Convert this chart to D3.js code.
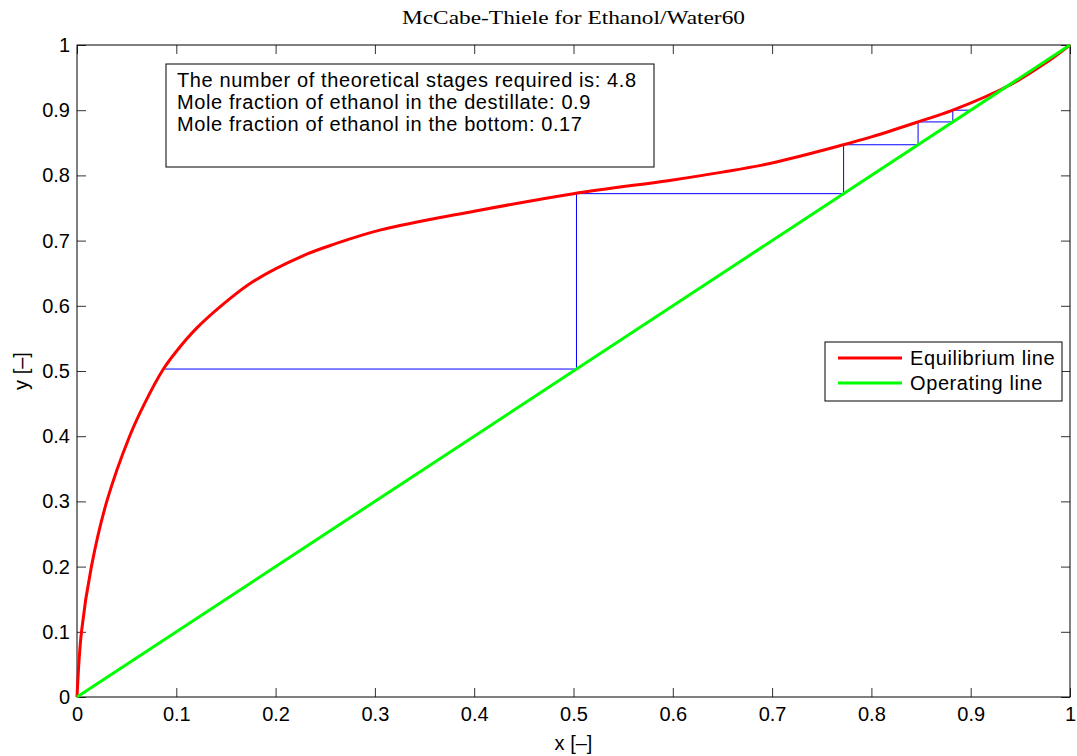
<!DOCTYPE html>
<html>
<head>
<meta charset="utf-8">
<script src="https://cdn.jsdelivr.net/npm/d3@7"></script>
<style>
	body { margin: 0; background: #fff; }
	text { font-family: "Liberation Sans", Arial, sans-serif; fill: #000; }
	.axis path { display: none; }
	.axis line { stroke: #333; }
	.boxtext { letter-spacing: 0.6px; }
	.title { font-family: "Liberation Serif", "DejaVu Serif", serif; }
</style>
</head>
<body>
<svg id="chart" width="1077" height="756"></svg>
<script>
"use strict";

// Equilibrium curve
var eqX = [0, 0.0045, 0.0145, 0.03, 0.053, 0.068, 0.087, 0.1, 0.12, 0.15, 0.177, 0.228, 0.26, 0.305, 0.4, 0.5, 0.6, 0.65, 0.7, 0.772, 0.8, 0.847, 0.882, 0.94, 0.975, 1];
var eqY = [0, 0.1, 0.2, 0.3, 0.4, 0.45, 0.503, 0.53, 0.565, 0.606, 0.637, 0.677, 0.695, 0.716, 0.745, 0.772, 0.793, 0.805, 0.819, 0.847, 0.859, 0.882, 0.9, 0.939, 0.972, 1];

// Operating line
var opX = [0, 1];
var opY = [0, 1];

// Stage staircase
var stepX = [0.087, 0.503, 0.503, 0.772, 0.772, 0.847, 0.847, 0.882, 0.882, 0.9];
var stepY = [0.503, 0.503, 0.772, 0.772, 0.847, 0.847, 0.882, 0.882, 0.9, 0.9];

var ticks = [0, 0.1, 0.2, 0.3, 0.4, 0.5, 0.6, 0.7, 0.8, 0.9, 1];
var tickLabels = ["0", "0.1", "0.2", "0.3", "0.4", "0.5", "0.6", "0.7", "0.8", "0.9", "1"];

var infoLines = [
	"The number of theoretical stages required is: 4.8",
	"Mole fraction of ethanol in the destillate: 0.9",
	"Mole fraction of ethanol in the bottom: 0.17"
];
var legendNames = ["Equilibrium line", "Operating line"];
var legendColours = ["#ff0000", "#00ff00"];

var svg = d3.select("#chart");
var margin = {top: 45, right: 7, bottom: 59, left: 77};
var width = +svg.attr("width") - margin.left - margin.right;
var height = +svg.attr("height") - margin.top - margin.bottom;

var chart = svg.append("g")
	.attr("transform", "translate(" + margin.left + "," + margin.top + ")");

var x = d3.scaleLinear().domain([0, 1]).range([0, width]);
var y = d3.scaleLinear().domain([0, 1]).range([height, 0]);

function fmt(d) { return tickLabels[ticks.indexOf(d)]; }

// Axes, ticks pointing inwards on all four sides
var fontSize = 20;
chart.append("g").attr("class", "axis")
	.attr("transform", "translate(0," + height + ")")
	.call(d3.axisBottom(x).tickValues(ticks).tickFormat(fmt).tickSizeInner(-9).tickSizeOuter(0).tickPadding(10));
chart.append("g").attr("class", "axis")
	.call(d3.axisLeft(y).tickValues(ticks).tickFormat(fmt).tickSizeInner(-9).tickSizeOuter(0).tickPadding(7));
chart.append("g").attr("class", "axis")
	.call(d3.axisTop(x).tickValues(ticks).tickFormat("").tickSizeInner(-9).tickSizeOuter(0));
chart.append("g").attr("class", "axis")
	.attr("transform", "translate(" + width + ",0)")
	.call(d3.axisRight(y).tickValues(ticks).tickFormat("").tickSizeInner(-9).tickSizeOuter(0));
svg.selectAll(".axis text")
	.attr("font-family", null)
	.attr("font-size", null)
	.style("font-size", fontSize + "px");

chart.append("rect")
	.attr("width", width)
	.attr("height", height)
	.attr("fill", "none")
	.attr("stroke", "#000")
	.attr("stroke-width", 1);

// Lines
var line = d3.line()
	.x(function(d) { return x(d[0]); })
	.y(function(d) { return y(d[1]); });

chart.append("path")
	.attr("d", line.curve(d3.curveLinear)(d3.zip(stepX, stepY)))
	.attr("fill", "none")
	.attr("stroke", "#0000ff")
	.attr("stroke-width", 1);

chart.append("path")
	.attr("d", line.curve(d3.curveCatmullRom.alpha(0.5))(d3.zip(eqX, eqY)))
	.attr("fill", "none")
	.attr("stroke", "#ff0000")
	.attr("stroke-width", 3);

chart.append("path")
	.attr("d", line.curve(d3.curveLinear)(d3.zip(opX, opY)))
	.attr("fill", "none")
	.attr("stroke", "#00ff00")
	.attr("stroke-width", 3);

// Info box
var info = svg.append("g").attr("transform", "translate(166,64)");
info.append("rect")
	.attr("width", 488).attr("height", 103)
	.attr("fill", "#fff").attr("stroke", "#000");
info.selectAll("text")
	.data(infoLines)
	.enter().append("text")
	.attr("class", "boxtext")
	.attr("x", 11)
	.attr("y", function(d, i) { return 23 + i * 22; })
	.style("font-size", fontSize + "px")
	.text(function(d) { return d; });

// Legend
var legend = svg.append("g").attr("transform", "translate(825,342)");
legend.append("rect")
	.attr("width", 237).attr("height", 59)
	.attr("fill", "#fff").attr("stroke", "#000");
var entry = legend.selectAll("g")
	.data(legendNames)
	.enter().append("g")
	.attr("transform", function(d, i) { return "translate(0," + (16 + i * 25) + ")"; });
entry.append("line")
	.attr("x1", 13).attr("x2", 77)
	.attr("stroke", function(d, i) { return legendColours[i]; })
	.attr("stroke-width", 3);
entry.append("text")
	.attr("class", "boxtext")
	.attr("x", 85)
	.attr("dy", "0.35em")
	.style("font-size", fontSize + "px")
	.text(function(d) { return d; });

// Title and axis labels
svg.append("text")
	.attr("class", "title")
	.attr("x", margin.left + width / 2)
	.attr("y", 24)
	.attr("text-anchor", "middle")
	.attr("textLength", 343)
	.attr("lengthAdjust", "spacingAndGlyphs")
	.style("font-size", "18px")
	.text("McCabe-Thiele for Ethanol/Water60");

svg.append("text")
	.attr("x", margin.left + width / 2)
	.attr("y", 750)
	.attr("text-anchor", "middle")
	.style("font-size", fontSize + "px")
	.text("x [\u2013]");

svg.append("text")
	.attr("transform", "translate(28," + (margin.top + height / 2) + ") rotate(-90)")
	.attr("text-anchor", "middle")
	.style("font-size", fontSize + "px")
	.text("y [\u2013]");
</script>
</body>
</html>
